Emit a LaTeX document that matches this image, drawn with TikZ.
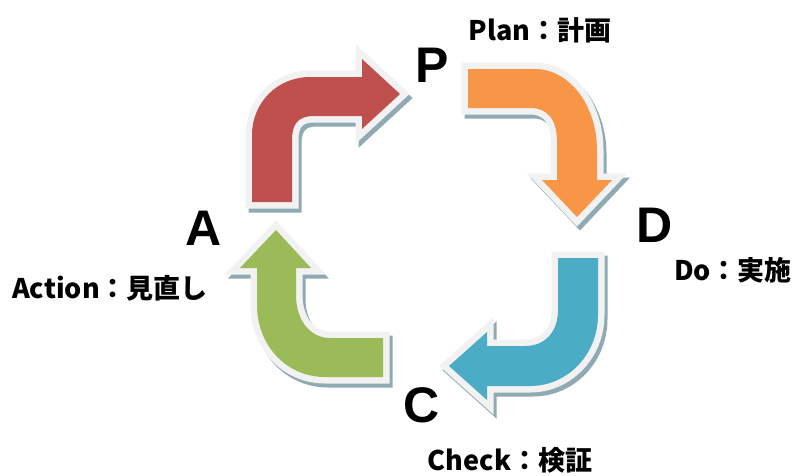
\documentclass[tikz,border=0pt]{standalone}
\usepackage{fontspec}
\newfontfamily\cjk{Noto Sans CJK JP}
\newfontfamily\letterfont{Liberation Sans}
\definecolor{redc}{HTML}{C0504D}
\definecolor{orangec}{HTML}{F79646}
\definecolor{bluec}{HTML}{4BACC6}
\definecolor{greenc}{HTML}{9BBB59}
\definecolor{rimc}{HTML}{F2F2F2}
\definecolor{shadowc}{HTML}{90AAB3}
\tikzset{
  arrowshadow/.style={fill=shadowc, draw=shadowc, line width=13pt, line join=miter},
  arrowrim/.style={fill=rimc, draw=rimc, line width=13pt, line join=miter},
  arrowbody/.style={fill=#1, draw=none},
  bigletter/.style={font=\letterfont\bfseries\fontsize{50}{50}\selectfont, inner sep=0pt},
  label/.style={font=\cjk\bfseries\fontsize{27}{27}\selectfont, inner sep=0pt}
}
\def\redpath{(252,202) -- (252,135) .. controls (252,103) and (277,77) .. (310,77) -- (362,77) -- (362,59) -- (400,94) -- (362,129) -- (362,116) -- (314,116) .. controls (298,116) and (292,124) .. (292,140) -- (292,202) -- cycle}
\def\orangepath{(468,69) -- (535,69) .. controls (569,69) and (597,105) .. (597,150) -- (597,180) -- (612,180) -- (577,217) -- (542,180) -- (557,180) -- (557,142) .. controls (557,120) and (548,108) .. (530,108) -- (468,108) -- cycle}
\def\bluepath{(598,258) -- (598,315) .. controls (598,354) and (568,386) .. (530,386) -- (487,386) -- (487,400) -- (449,366) -- (487,332) -- (487,346) -- (525,346) .. controls (545,346) and (558,332) .. (558,310) -- (558,258) -- cycle}
\def\greenpath{(383,377) -- (325,377) .. controls (286,377) and (257,345) .. (257,305) -- (257,268) -- (240,268) -- (276,230) -- (311,268) -- (296,268) -- (296,295) .. controls (296,320) and (310,338) .. (330,338) -- (383,338) -- cycle}
\begin{document}
\begin{tikzpicture}[x=1pt, y=-1pt]
\useasboundingbox (0,0) rectangle (792,475);
\fill[white] (0,0) rectangle (792,475);
% shadows
\draw[arrowshadow, shift={(3,4)}] \redpath;
\draw[arrowshadow, shift={(3,4)}] \orangepath;
\draw[arrowshadow, shift={(3,4)}] \bluepath;
\draw[arrowshadow, shift={(3,4)}] \greenpath;
% rims
\draw[arrowrim] \redpath;
\draw[arrowrim] \orangepath;
\draw[arrowrim] \bluepath;
\draw[arrowrim] \greenpath;
% bodies
\fill[arrowbody=redc] \redpath;
\fill[arrowbody=orangec] \orangepath;
\fill[arrowbody=bluec] \bluepath;
\fill[arrowbody=greenc] \greenpath;
% letters
\node[bigletter] (P) at (432.5,65) {P};
\node[bigletter] (D) at (655,225) {D};
\node[bigletter] (C) at (422,405) {C};
\node[bigletter] (A) at (203.5,228.5) {A};
% labels
\node[label] (plan) at (540,30) {Plan：計画};
\node[label] (do) at (733,270) {Do：実施};
\node[label] (check) at (510,460) {Check：検証};
\node[label] (action) at (110,288) {Action：見直し};
\end{tikzpicture}
\end{document}
